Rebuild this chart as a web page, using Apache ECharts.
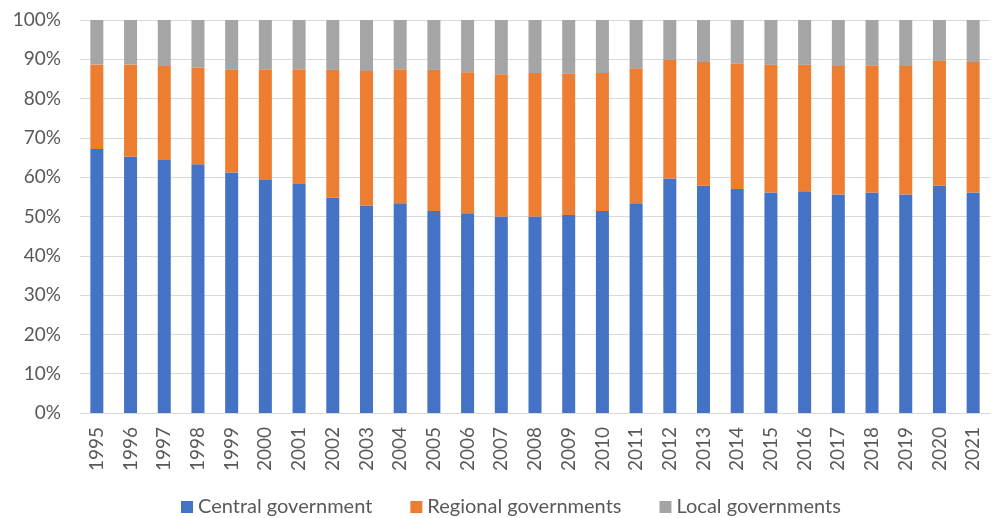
<!DOCTYPE html>
<html>
<head>
<meta charset="utf-8">
<script src="https://cdn.jsdelivr.net/npm/echarts@6/dist/echarts.min.js"></script>
<style>
  html, body { margin: 0; padding: 0; background: #ffffff; }
  #chart { width: 999px; height: 518px; }
</style>
</head>
<body>
<div id="chart"></div>
<script>
// Share of public spending by level of government, 1995–2021 (percent)
const years = ['1995','1996','1997','1998','1999','2000','2001','2002','2003','2004','2005','2006','2007','2008','2009','2010','2011','2012','2013','2014','2015','2016','2017','2018','2019','2020','2021'];
const centralGov = [67.2,65.2,64.4,63.3,61.2,59.3,58.3,54.8,52.8,53.4,51.4,50.8,50.0,50.0,50.4,51.4,53.4,59.7,57.8,57.0,56.1,56.4,55.6,56.1,55.6,57.8,56.1];
const regionalGov = [21.5,23.5,23.9,24.6,26.1,28.2,29.2,32.5,34.2,34.1,35.9,35.9,36.2,36.5,35.9,35.1,34.3,30.1,31.5,31.9,32.5,32.2,32.7,32.4,32.7,31.8,33.2];
const localGov = [11.3,11.3,11.7,12.1,12.7,12.5,12.5,12.7,13.0,12.5,12.7,13.3,13.8,13.5,13.7,13.5,12.3,10.2,10.7,11.1,11.4,11.4,11.7,11.5,11.7,10.4,10.7];
const yTicks = [0,10,20,30,40,50,60,70,80,90,100];

const seriesDefs = [
  { name: 'Central government', data: centralGov, color: '#4472C4' },
  { name: 'Regional governments', data: regionalGov, color: '#ED7D31' },
  { name: 'Local governments', data: localGov, color: '#A5A5A5' }
];

const textColor = '#595959';
const fontFamily = 'Lato, "Open Sans", sans-serif';

const chart = echarts.init(document.getElementById('chart'));
chart.setOption({
  animation: false,
  grid: { left: 80, right: 9, top: 20, bottom: 105, containLabel: false },
  legend: {
    top: 497,
    left: 181,
    padding: 0,
    itemWidth: 12,
    itemHeight: 12,
    itemGap: 38,
    icon: 'rect',
    textStyle: { color: textColor, fontSize: 20, fontFamily: fontFamily },
    data: seriesDefs.map(s => s.name)
  },
  xAxis: {
    type: 'category',
    data: years,
    axisLine: { lineStyle: { color: '#D9D9D9', width: 1 } },
    axisTick: { show: false },
    axisLabel: {
      rotate: 90,
      color: textColor,
      fontSize: 19,
      fontFamily: fontFamily,
      margin: 14,
      interval: 0
    }
  },
  yAxis: {
    type: 'value',
    min: 0,
    max: 100,
    interval: 10,
    axisLine: { show: false },
    axisTick: { show: false },
    splitLine: { lineStyle: { color: '#D9D9D9', width: 1 } },
    axisLabel: {
      color: textColor,
      fontSize: 19,
      fontFamily: fontFamily,
      margin: 19,
      formatter: v => yTicks.includes(v) ? v + '%' : ''
    }
  },
  series: seriesDefs.map(s => ({
    name: s.name,
    type: 'bar',
    stack: 'share',
    barWidth: 13,
    data: s.data,
    itemStyle: { color: s.color }
  }))
});
</script>
</body>
</html>
